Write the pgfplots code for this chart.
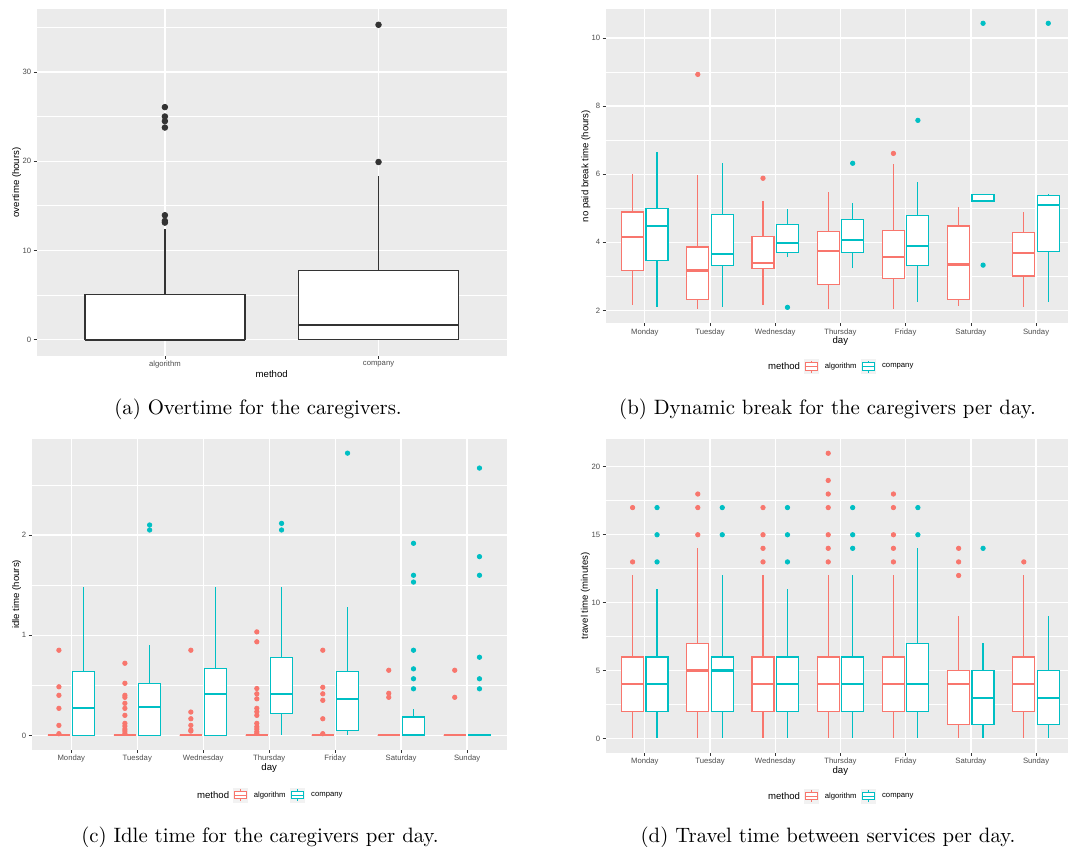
\documentclass[border=0pt]{standalone}
\usepackage{fontspec}
\usepackage{pgfplots}
\pgfplotsset{compat=1.18}
\usepgfplotslibrary{statistics}
\newfontfamily\cf{Liberation Sans}

\definecolor{algc}{HTML}{F8766D}
\definecolor{compc}{HTML}{00BFC4}
\definecolor{panelbg}{HTML}{EBEBEB}
\definecolor{keybg}{HTML}{F2F2F2}
\definecolor{g20}{HTML}{333333}
\definecolor{g30}{HTML}{4D4D4D}

\pgfplotsset{
  ggpanel/.style={
    scale only axis,
    axis background/.style={fill=panelbg},
    axis line style={draw=none},
    xmajorgrids, ymajorgrids, yminorgrids,
    major grid style={draw=white, line width=0.65pt},
    minor grid style={draw=white, line width=0.35pt},
    tick align=outside,
    major tick length=1.5pt,
    minor tick length=0pt,
    tick pos=left,
    tick style={draw=g20, line width=0.35pt},
    /pgf/number format/assume math mode=true,
    ticklabel style={font=\cf\fontsize{3.85}{4.5}\selectfont, text=g30},
    xticklabel style={yshift=2.3pt},
    yticklabel style={xshift=2.3pt},
    label style={font=\cf\fontsize{4.8}{5.5}\selectfont, text=black},
    xlabel style={at={(axis description cs:0.5,0)}, anchor=center, yshift=-9pt},
  },
  dayaxis/.style={
    ggpanel, xmin=0.4, xtick={1,...,7},
    xticklabels={Monday,Tuesday,Wednesday,Thursday,Friday,Saturday,Sunday},
    xlabel={day},
  },
}

% one dodged box: colour, position, lower whisker, lower quartile, median, upper quartile, upper whisker
\newcommand{\gbox}[7]{%
  \addplot[#1, fill=white, line width=0.6pt,
    boxplot prepared={draw direction=y, draw position=#2, lower whisker=#3, lower quartile=#4,
      median=#5, upper quartile=#6, upper whisker=#7, box extend=0.3375,
      whisker extend=0, every median/.style={line width=1.1pt}}] coordinates {};}

% outlying observations
\newcommand{\gout}[2]{\addplot[only marks, mark=*, mark size=1.1pt, #1] coordinates {#2};}

% legend key glyph at horizontal offset #1 in colour #2
\newcommand{\keyglyph}[2]{%
  \fill[keybg] (#1,-3.75pt) rectangle ++(7.5pt,7.5pt);
  \draw[#2, line width=0.5pt, fill=white] (#1+0.75pt,-1.875pt) rectangle (#1+6.75pt,1.875pt);
  \draw[#2, line width=0.5pt] (#1+0.75pt,0pt) -- (#1+6.75pt,0pt);
  \draw[#2, line width=0.5pt] (#1+3.75pt,1.875pt) -- (#1+3.75pt,3pt)
                              (#1+3.75pt,-1.875pt) -- (#1+3.75pt,-3pt);}

\newcommand{\gglegend}[2]{%
  \begin{scope}[shift={(#1,#2)}]
    \node[anchor=west, inner sep=0pt, font=\cf\fontsize{4.8}{5.5}\selectfont] at (0pt,0pt) {method};
    \keyglyph{18.35pt}{algc}
    \node[anchor=west, inner sep=0pt, font=\cf\fontsize{3.85}{4.5}\selectfont] at (28.4pt,0pt) {algorithm};
    \keyglyph{46.65pt}{compc}
    \node[anchor=west, inner sep=0pt, font=\cf\fontsize{3.85}{4.5}\selectfont] at (57.05pt,0pt) {company};
  \end{scope}}

\begin{document}
\begin{tikzpicture}
\useasboundingbox (0pt,0pt) rectangle (534pt,-423pt);

% (a) overtime
\begin{axis}[ggpanel, at={(18.35pt,-4.5pt)}, anchor=north west,
  width=235pt, height=173.4pt,
  xmin=0.4, xmax=2.6, ymin=-1.8, ymax=37.05,
  xtick={1,2}, xticklabels={algorithm,company},
  ytick={0,10,20,30}, minor ytick={5,15,25,35},
  xlabel={method}, ylabel={overtime (hours)},
  ylabel style={at={(axis description cs:-0.04255,0.5)}, anchor=center}]
  \addplot[g20, fill=white, line width=0.75pt,
    boxplot prepared={draw direction=y, draw position=1, lower whisker=0, lower quartile=0,
      median=0, upper quartile=5.06, upper whisker=12.45, box extend=0.75,
      whisker extend=0, every median/.style={line width=1.1pt}}] coordinates {};
  \addplot[g20, fill=white, line width=0.75pt,
    boxplot prepared={draw direction=y, draw position=2, lower whisker=0, lower quartile=0,
      median=1.61, upper quartile=7.76, upper whisker=18.3, box extend=0.75,
      whisker extend=0, every median/.style={line width=1.1pt}}] coordinates {};
  \addplot[only marks, mark=*, mark size=1.4pt, g20] coordinates {
    (1,26.06) (1,25.01) (1,24.49) (1,23.77) (1,13.95) (1,13.31) (1,13.12)
    (2,19.91) (2,35.28)};
\end{axis}

% (b) dynamic break
\begin{axis}[dayaxis, at={(302.85pt,-4.5pt)}, anchor=north west,
  width=231.15pt, height=157pt,
  xmax=7.49, ymin=1.63, ymax=10.85,
  ytick={2,4,6,8,10}, minor ytick={3,5,7,9},
  ylabel={no paid break time (hours)},
  ylabel style={at={(axis description cs:-0.0426,0.5)}, anchor=center},
  xlabel style={at={(axis description cs:0.5075,0)}}]
  \gbox{algc}{0.8125}{2.17}{3.17}{4.15}{4.89}{6.00}
  \gbox{compc}{1.1875}{2.09}{3.46}{4.47}{4.99}{6.66}
  \gbox{algc}{1.8125}{2.05}{2.33}{3.17}{3.86}{5.98}
  \gbox{compc}{2.1875}{2.09}{3.33}{3.66}{4.82}{6.32}
  \gbox{algc}{2.8125}{2.17}{3.23}{3.40}{4.16}{5.22}
  \gbox{compc}{3.1875}{3.58}{3.69}{3.98}{4.53}{4.99}
  \gbox{algc}{3.8125}{2.05}{2.76}{3.74}{4.31}{5.49}
  \gbox{compc}{4.1875}{3.26}{3.69}{4.07}{4.67}{5.16}
  \gbox{algc}{4.8125}{2.05}{2.93}{3.58}{4.34}{6.30}
  \gbox{compc}{5.1875}{2.26}{3.31}{3.88}{4.79}{5.77}
  \gbox{algc}{5.8125}{2.14}{2.33}{3.35}{4.48}{5.04}
  \gbox{compc}{6.1875}{5.19}{5.19}{5.22}{5.40}{5.40}
  \gbox{algc}{6.8125}{2.09}{3.01}{3.68}{4.28}{4.89}
  \gbox{compc}{7.1875}{2.26}{3.74}{5.09}{5.37}{5.41}
  \gout{algc}{(1.8125,8.93) (2.8125,5.88) (4.8125,6.61)}
  \gout{compc}{(3.1875,2.09) (4.1875,6.32) (5.1875,7.58) (6.1875,10.43) (6.1875,3.33) (7.1875,10.43)}
\end{axis}

% (c) idle time
\begin{axis}[dayaxis, at={(15.85pt,-219.5pt)}, anchor=north west,
  width=237.5pt, height=155.25pt,
  xmax=7.6, ymin=-0.141, ymax=2.958,
  ytick={0,1,2}, minor ytick={0.5,1.5,2.5},
  ylabel={idle time (hours)},
  ylabel style={at={(axis description cs:-0.0316,0.5)}, anchor=center}]
  \gbox{algc}{0.8125}{0}{0}{0}{0}{0}
  \gbox{compc}{1.1875}{0}{0}{0.27}{0.635}{1.48}
  \gbox{algc}{1.8125}{0}{0}{0}{0}{0}
  \gbox{compc}{2.1875}{0}{0}{0.28}{0.52}{0.90}
  \gbox{algc}{2.8125}{0}{0}{0}{0}{0}
  \gbox{compc}{3.1875}{0}{0}{0.415}{0.664}{1.48}
  \gbox{algc}{3.8125}{0}{0}{0}{0}{0}
  \gbox{compc}{4.1875}{0}{0.216}{0.415}{0.78}{1.48}
  \gbox{algc}{4.8125}{0}{0}{0}{0}{0}
  \gbox{compc}{5.1875}{0}{0.05}{0.365}{0.635}{1.28}
  \gbox{algc}{5.8125}{0}{0}{0}{0}{0}
  \gbox{compc}{6.1875}{0}{0}{0}{0.183}{0.262}
  \gbox{algc}{6.8125}{0}{0}{0}{0}{0}
  \gbox{compc}{7.1875}{0}{0}{0}{0}{0}
  \gout{algc}{(0.8125,0.85) (0.8125,0.485) (0.8125,0.40) (0.8125,0.27) (0.8125,0.10) (0.8125,0.017)
    (1.8125,0.72) (1.8125,0.52) (1.8125,0.40) (1.8125,0.38) (1.8125,0.32) (1.8125,0.27)
    (1.8125,0.20) (1.8125,0.12) (1.8125,0.093) (1.8125,0.063) (1.8125,0.043) (1.8125,0.02)
    (2.8125,0.85) (2.8125,0.233) (2.8125,0.166) (2.8125,0.10) (2.8125,0.053) (2.8125,0.043)
    (3.8125,1.033) (3.8125,0.934) (3.8125,0.468) (3.8125,0.415) (3.8125,0.365) (3.8125,0.27)
    (3.8125,0.236) (3.8125,0.20) (3.8125,0.12) (3.8125,0.086) (3.8125,0.063) (3.8125,0.037) (3.8125,0.02)
    (4.8125,0.85) (4.8125,0.48) (4.8125,0.415) (4.8125,0.35) (4.8125,0.166) (4.8125,0.017)
    (5.8125,0.65) (5.8125,0.42) (5.8125,0.38)
    (6.8125,0.65) (6.8125,0.38)}
  \gout{compc}{(2.1875,2.10) (2.1875,2.05) (4.1875,2.116) (4.1875,2.05) (5.1875,2.817)
    (6.1875,1.917) (6.1875,1.598) (6.1875,1.53) (6.1875,0.85) (6.1875,0.664) (6.1875,0.565) (6.1875,0.465)
    (7.1875,2.668) (7.1875,1.784) (7.1875,1.598) (7.1875,0.78) (7.1875,0.565) (7.1875,0.465)}
\end{axis}

% (d) travel time
\begin{axis}[dayaxis, at={(302.85pt,-219.5pt)}, anchor=north west,
  width=231.15pt, height=156.85pt,
  xmax=7.49, ymin=-1.05, ymax=22.05,
  ytick={0,5,10,15,20}, minor ytick={2.5,7.5,12.5,17.5},
  ylabel={travel time (minutes)},
  ylabel style={at={(axis description cs:-0.0437,0.5)}, anchor=center},
  xlabel style={at={(axis description cs:0.5075,0)}}]
  \gbox{algc}{0.8125}{0}{2}{4}{6}{12}
  \gbox{compc}{1.1875}{0}{2}{4}{6}{11}
  \gbox{algc}{1.8125}{0}{2}{5}{7}{14}
  \gbox{compc}{2.1875}{0}{2}{5}{6}{12}
  \gbox{algc}{2.8125}{0}{2}{4}{6}{12}
  \gbox{compc}{3.1875}{0}{2}{4}{6}{11}
  \gbox{algc}{3.8125}{0}{2}{4}{6}{12}
  \gbox{compc}{4.1875}{0}{2}{4}{6}{12}
  \gbox{algc}{4.8125}{0}{2}{4}{6}{12}
  \gbox{compc}{5.1875}{0}{2}{4}{7}{14}
  \gbox{algc}{5.8125}{0}{1}{4}{5}{9}
  \gbox{compc}{6.1875}{0}{1}{3}{5}{7}
  \gbox{algc}{6.8125}{0}{2}{4}{6}{12}
  \gbox{compc}{7.1875}{0}{1}{3}{5}{9}
  \gout{algc}{(0.8125,17) (0.8125,13)
    (1.8125,18) (1.8125,17) (1.8125,15)
    (2.8125,17) (2.8125,15) (2.8125,14) (2.8125,13)
    (3.8125,21) (3.8125,19) (3.8125,18) (3.8125,17) (3.8125,15) (3.8125,14) (3.8125,13)
    (4.8125,18) (4.8125,17) (4.8125,15) (4.8125,14) (4.8125,13)
    (5.8125,14) (5.8125,13) (5.8125,12)
    (6.8125,13)}
  \gout{compc}{(1.1875,17) (1.1875,15) (1.1875,13)
    (2.1875,17) (2.1875,15)
    (3.1875,17) (3.1875,15) (3.1875,13)
    (4.1875,17) (4.1875,15) (4.1875,14)
    (5.1875,17) (5.1875,15)
    (6.1875,14)}
\end{axis}

% legends below the daily panels
\gglegend{383.8pt}{-183.25pt}
\gglegend{98.35pt}{-397.5pt}
\gglegend{383.8pt}{-398pt}

% sub-captions
\node[font=\fontsize{10.4}{12}\selectfont] at (129pt,-204.75pt) {(a) Overtime for the caregivers.};
\node[font=\fontsize{10.4}{12}\selectfont] at (413.75pt,-204.75pt) {(b) Dynamic break for the caregivers per day.};
\node[font=\fontsize{10.4}{12}\selectfont] at (130pt,-418.5pt) {(c) Idle time for the caregivers per day.};
\node[font=\fontsize{10.4}{12}\selectfont] at (414pt,-418.5pt) {(d) Travel time between services per day.};
\end{tikzpicture}
\end{document}
